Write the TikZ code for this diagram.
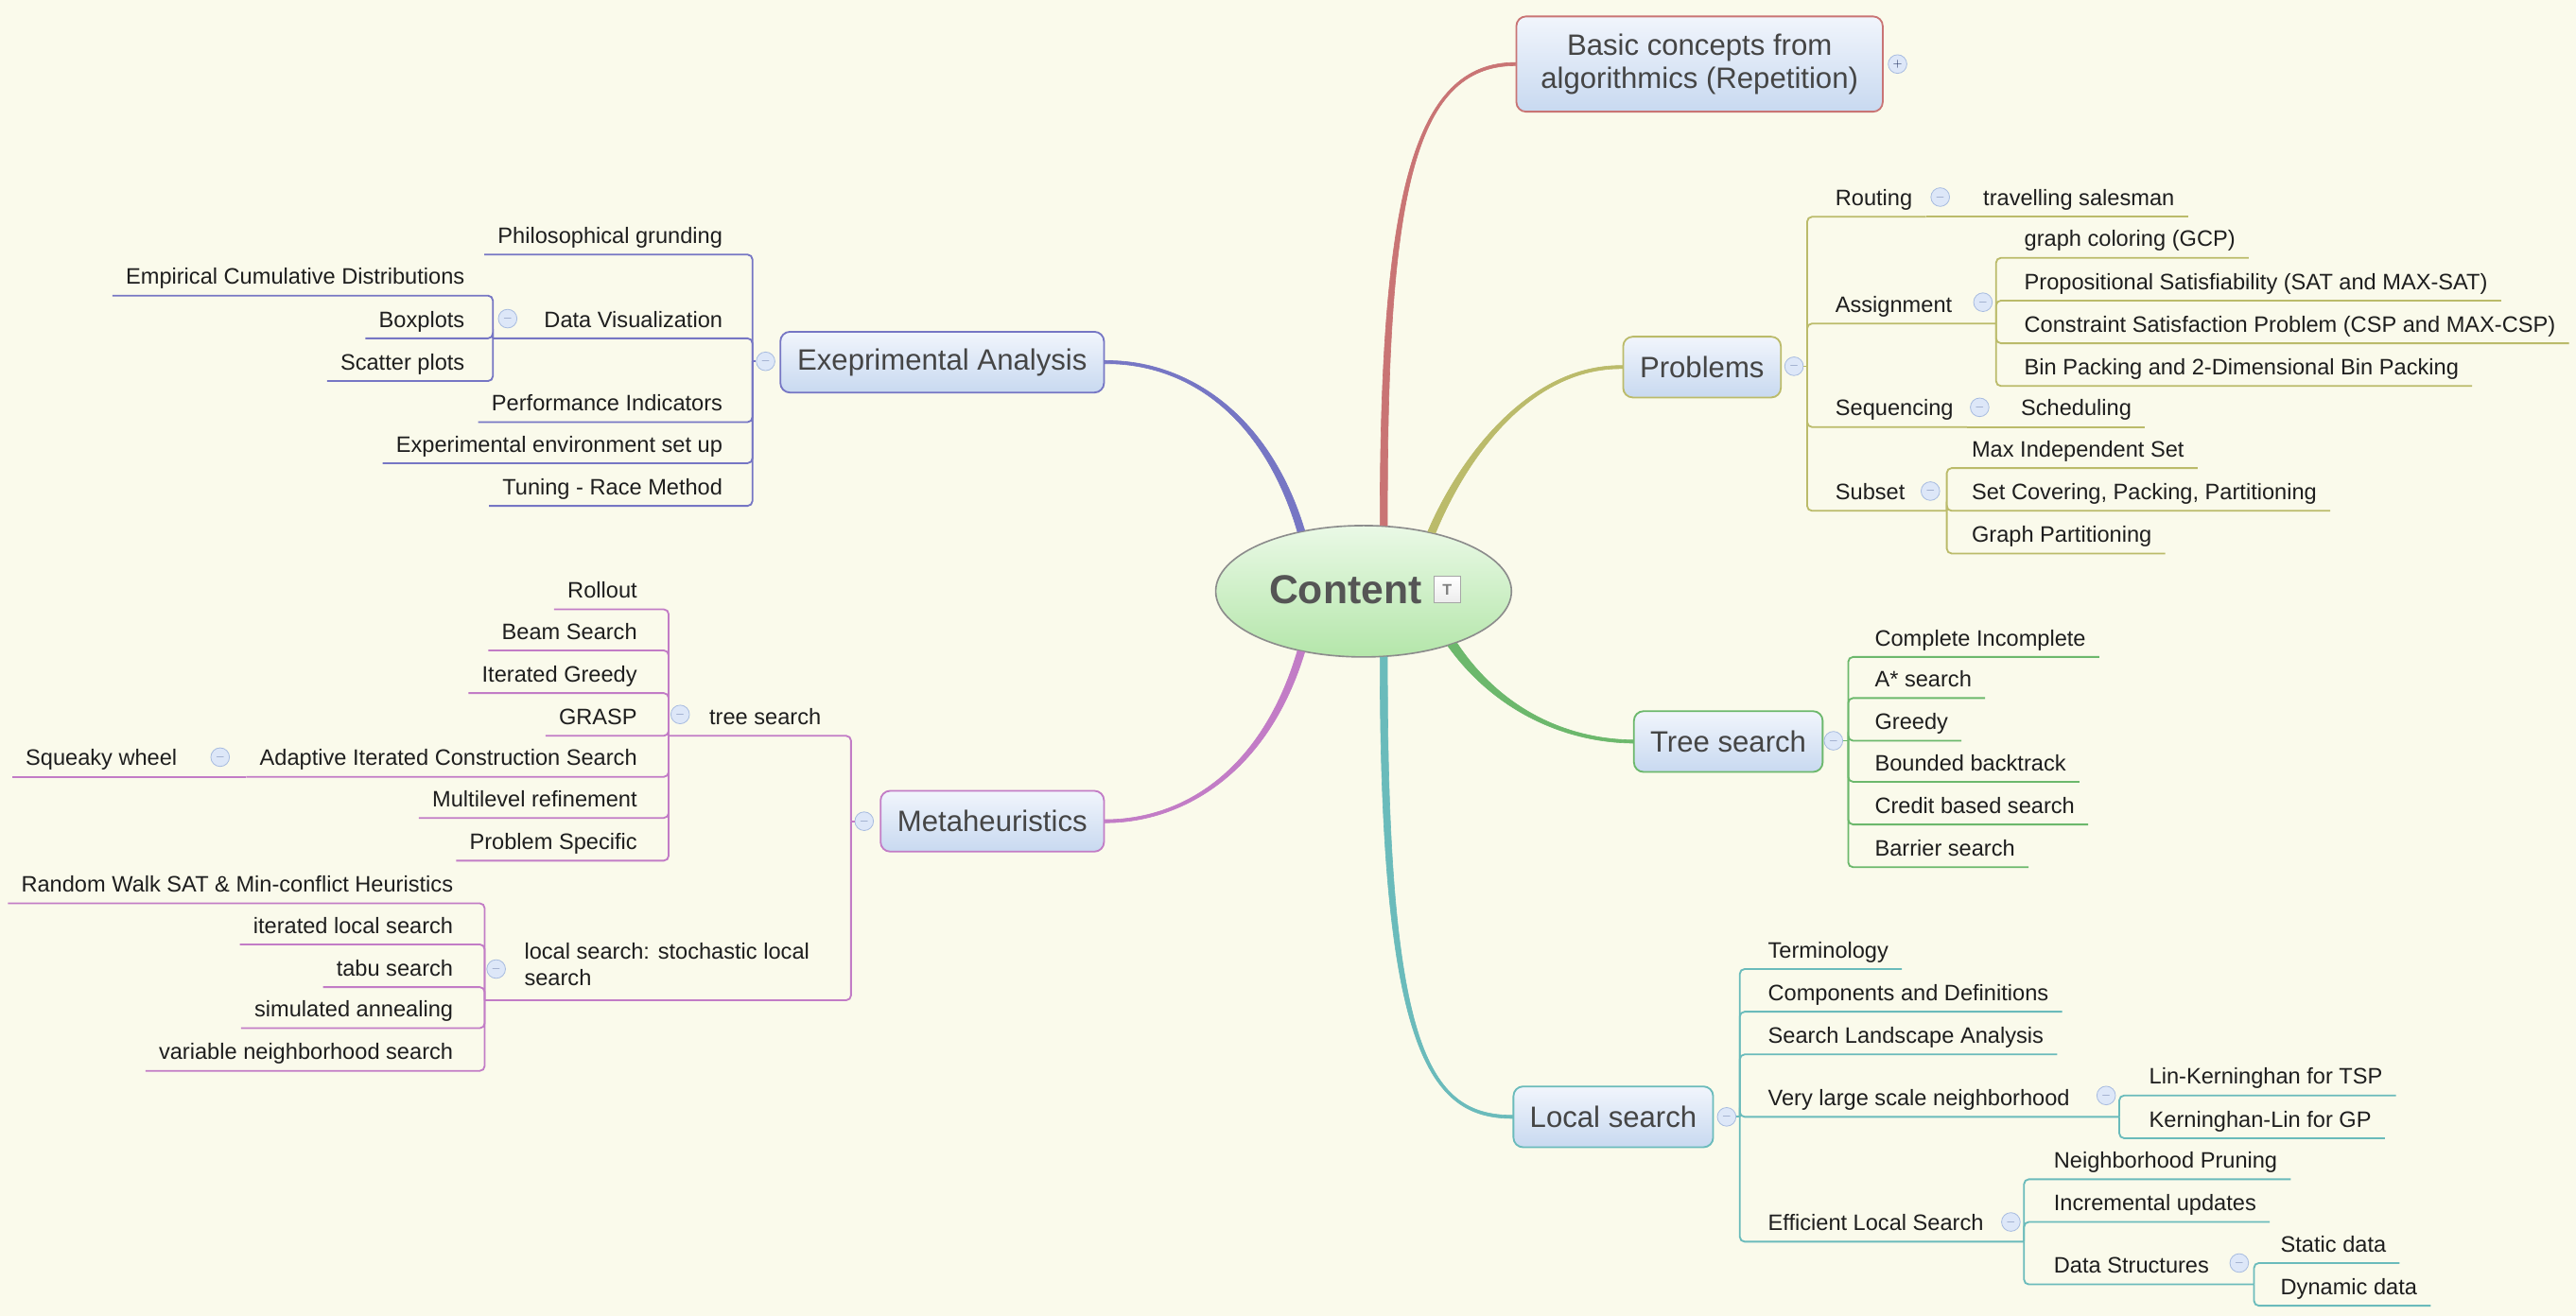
\documentclass[tikz,border=0pt]{standalone}
\usepackage{fontspec}
\setmainfont{Liberation Sans}
\usetikzlibrary{shapes.geometric,positioning}

\definecolor{paper}{HTML}{FAFAEB}
\definecolor{boxtop}{HTML}{F1F5FC}
\definecolor{boxbot}{HTML}{C8D9F0}
\definecolor{elltop}{HTML}{EAF9E6}
\definecolor{ellbot}{HTML}{B4E6AA}
\definecolor{ellrim}{HTML}{8C8C8C}
\definecolor{topicink}{HTML}{454545}
\definecolor{titleink}{HTML}{555555}
\definecolor{leafink}{HTML}{1E1E1E}
\definecolor{foldrim}{HTML}{A8BCE0}
\definecolor{foldfill}{HTML}{DDE7F8}
\definecolor{foldink}{HTML}{7A8CB4}
\definecolor{plusink}{HTML}{2A3A66}
\definecolor{basiccol}{HTML}{C97474}
\definecolor{probcol}{HTML}{BBBB6A}
\definecolor{treecol}{HTML}{6CB86C}
\definecolor{localcol}{HTML}{6ABBBB}
\definecolor{metacol}{HTML}{C27CC6}
\definecolor{expcol}{HTML}{7676C4}

\begin{document}
\begin{tikzpicture}[x=0.03cm,y=-0.03cm]
\tikzstyle{centre}=[ellipse, draw=ellrim, line width=0.8pt, top color=elltop, bottom color=ellbot, minimum width=5.4cm, minimum height=2.4cm]
\tikzstyle{title}=[font=\bfseries\fontsize{21}{24}\selectfont, text=titleink, inner sep=0pt]
\tikzstyle{note}=[rectangle, draw=gray!70, top color=white, bottom color=gray!15, minimum size=0.48cm, inner sep=0pt, font=\bfseries\footnotesize, text=gray]
\tikzstyle{topic}=[rectangle, rounded corners=5pt, line width=0.9pt, top color=boxtop, bottom color=boxbot, text=topicink, font=\fontsize{15.3}{17}\selectfont, inner xsep=8.5pt, minimum height=1.11cm]
\tikzstyle{leaf}=[inner xsep=6.8pt, inner ysep=3.4pt, text height=0.72em, text depth=0.22em, font=\fontsize{11.6}{13.6}\selectfont, text=leafink]
\tikzstyle{rleaf}=[leaf, anchor=south west]
\tikzstyle{lleaf}=[leaf, anchor=south east]
\tikzstyle{fold}=[circle, draw=foldrim, fill=foldfill, minimum size=0.34cm, inner sep=0pt, text=foldink, font=\tiny]
\tikzstyle{branch}=[line width=0.3pt]
\tikzstyle{link}=[line width=0.9pt]
\tikzstyle{bracket}=[link, rounded corners=2.5pt, to path={|- (\tikztotarget)}]
	\fill[paper, use as bounding box] (0,0) rectangle (1568,801);
	% centre
	\node[centre] (content) at (830,360) {};
	\node[title] (ctitle) at (819,359) {Content};
	\node[note, right=6pt of ctitle] (cnote) {T};
	% main topics
	\node[topic, draw=basiccol, align=center, minimum width=6.69cm, minimum height=1.74cm] (basic) at (1034.5,39) {Basic concepts from\\algorithmics (Repetition)};
	\node[topic, draw=probcol, minimum width=2.88cm] (problems) at (1036,223.5) {Problems};
	\node[topic, draw=treecol, minimum width=3.36cm] (treesearch) at (1052,451.5) {Tree search};
	\node[topic, draw=localcol, minimum width=3.6cm] (localsearch) at (982,680) {Local search};
	\node[topic, draw=metacol, minimum width=4.08cm] (metaheur) at (604,500) {Metaheuristics};
	\node[topic, draw=expcol, minimum width=5.91cm] (expanalysis) at (573.5,220.5) {Exeprimental Analysis};
	% tapered branches
	\filldraw[branch, basiccol] (content.70) .. controls (844,120) and (860,40) .. ([yshift=-0.8pt]basic.west)
		-- ([yshift=0.8pt]basic.west) .. controls (860,38) and (840,120) .. (content.76) -- cycle;
	\filldraw[branch, probcol] (content.39) .. controls (891.9,280.7) and (930,224) .. ([yshift=-0.8pt]problems.west)
		-- ([yshift=0.8pt]problems.west) .. controls (930,222) and (888.1,279.3) .. (content.43) -- cycle;
	\filldraw[branch, treecol] (content.-33) .. controls (908.3,431) and (950,452) .. ([yshift=-0.8pt]treesearch.west)
		-- ([yshift=0.8pt]treesearch.west) .. controls (950,450) and (911.7,429) .. (content.-29) -- cycle;
	\filldraw[branch, localcol] (content.-76) .. controls (840,640) and (870,681) .. ([yshift=-0.8pt]localsearch.west)
		-- ([yshift=0.8pt]localsearch.west) .. controls (870,679) and (844,640) .. (content.-70) -- cycle;
	\filldraw[branch, metacol] (content.-138) .. controls (768.1,469.5) and (720,499) .. ([yshift=0.8pt]metaheur.east)
		-- ([yshift=-0.8pt]metaheur.east) .. controls (720,501) and (771.9,470.5) .. (content.-134) -- cycle;
	\filldraw[branch, expcol] (content.134) .. controls (771.9,249.5) and (720,219) .. ([yshift=0.8pt]expanalysis.east)
		-- ([yshift=-0.8pt]expanalysis.east) .. controls (720,221) and (768.1,250.5) .. (content.138) -- cycle;
	\node[fold, text=plusink] (basicfold) at (1155,39) {$+$};

	% problems
	\node[fold] (probfold) at (1092,223) {$-$};
	\coordinate (pj) at (1100,223);
	\node[rleaf] (routing) at (1109,132) {Routing};
	\node[fold] (routingfold) at (1181,120) {$-$};
	\node[rleaf] (tsp) at (1199,132) {travelling salesman};
	\node[rleaf] (assign) at (1109,197) {Assignment};
	\node[fold] (assignfold) at (1207,184) {$-$};
	\coordinate (aj) at (1215,197);
	\node[rleaf] (gcp) at (1224,157) {graph coloring (GCP)};
	\node[rleaf] (sat) at (1224,183) {Propositional Satisfiability (SAT and MAX-SAT)};
	\node[rleaf] (csp) at (1224,209) {Constraint Satisfaction Problem (CSP and MAX-CSP)};
	\node[rleaf] (binpack) at (1224,235) {Bin Packing and 2-Dimensional Bin Packing};
	\node[rleaf] (seq) at (1109,260) {Sequencing};
	\node[fold] (seqfold) at (1205,248) {$-$};
	\node[rleaf] (sched) at (1222,260) {Scheduling};
	\node[rleaf] (subset) at (1109,311) {Subset};
	\node[fold] (subsetfold) at (1175,299) {$-$};
	\coordinate (sj) at (1185,311);
	\node[rleaf] (mis) at (1192,285) {Max Independent Set};
	\node[rleaf] (setcov) at (1192,311) {Set Covering, Packing, Partitioning};
	\node[rleaf] (gpart) at (1192,337) {Graph Partitioning};
	\begin{scope}[probcol]
	\path (probfold) edge [link] (pj);
	\path (pj) edge [bracket] (routing.south east);
	\path (routing.south east) edge [link] (tsp.south east);
	\path (pj) edge [bracket] (aj);
	\path (aj) edge [bracket] (gcp.south east);
	\path (aj) edge [bracket] (sat.south east);
	\path (aj) edge [bracket] (csp.south east);
	\path (aj) edge [bracket] (binpack.south east);
	\path (pj) edge [bracket] (seq.south east);
	\path (seq.south east) edge [link] (sched.south east);
	\path (pj) edge [bracket] (sj);
	\path (sj) edge [bracket] (mis.south east);
	\path (sj) edge [bracket] (setcov.south east);
	\path (sj) edge [bracket] (gpart.south east);
	\end{scope}

	% tree search
	\node[fold] (treefold) at (1116,451) {$-$};
	\coordinate (tj) at (1125,451);
	\node[rleaf] (complete) at (1133,400) {Complete Incomplete};
	\node[rleaf] (astar) at (1133,425) {A* search};
	\node[rleaf] (greedy) at (1133,451) {Greedy};
	\node[rleaf] (bounded) at (1133,476) {Bounded backtrack};
	\node[rleaf] (credit) at (1133,502) {Credit based search};
	\node[rleaf] (barrier) at (1133,528) {Barrier search};
	\begin{scope}[treecol]
	\path (treefold) edge [link] (tj);
	\path (tj) edge [bracket] (complete.south east);
	\path (tj) edge [bracket] (astar.south east);
	\path (tj) edge [bracket] (greedy.south east);
	\path (tj) edge [bracket] (bounded.south east);
	\path (tj) edge [bracket] (credit.south east);
	\path (tj) edge [bracket] (barrier.south east);
	\end{scope}

	% local search
	\node[fold] (localfold) at (1051,680) {$-$};
	\coordinate (lj) at (1059,680);
	\node[rleaf] (termin) at (1068,590) {Terminology};
	\node[rleaf] (compdef) at (1068,616) {Components and Definitions};
	\node[rleaf] (landscape) at (1068,642) {Search Landscape Analysis};
	\node[rleaf] (vlsn) at (1068,680) {Very large scale neighborhood};
	\node[fold] (vlsnfold) at (1282,667) {$-$};
	\coordinate (vj) at (1290,680);
	\node[rleaf] (lktsp) at (1300,667) {Lin-Kerninghan for TSP};
	\node[rleaf] (klgp) at (1300,693) {Kerninghan-Lin for GP};
	\node[rleaf] (efficient) at (1068,756) {Efficient Local Search};
	\node[fold] (efficientfold) at (1224,744) {$-$};
	\coordinate (ej) at (1232,756);
	\node[rleaf] (pruning) at (1242,718) {Neighborhood Pruning};
	\node[rleaf] (incr) at (1242,744) {Incremental updates};
	\node[rleaf] (datastruct) at (1242,782) {Data Structures};
	\node[fold] (datafold) at (1363,769) {$-$};
	\coordinate (dj) at (1372,782);
	\node[rleaf] (static) at (1380,769) {Static data};
	\node[rleaf] (dynamic) at (1380,795) {Dynamic data};
	\begin{scope}[localcol]
	\path (localfold) edge [link] (lj);
	\path (lj) edge [bracket] (termin.south east);
	\path (lj) edge [bracket] (compdef.south east);
	\path (lj) edge [bracket] (landscape.south east);
	\path (lj) edge [bracket] (vj);
	\path (vj) edge [bracket] (lktsp.south east);
	\path (vj) edge [bracket] (klgp.south east);
	\path (lj) edge [bracket] (ej);
	\path (ej) edge [bracket] (pruning.south east);
	\path (ej) edge [bracket] (incr.south east);
	\path (ej) edge [bracket] (dj);
	\path (dj) edge [bracket] (static.south east);
	\path (dj) edge [bracket] (dynamic.south east);
	\end{scope}

	% experimental analysis
	\node[fold] (expfold) at (466,220) {$-$};
	\coordinate (xj) at (458,220);
	\node[lleaf] (philo) at (448,155) {Philosophical grunding};
	\node[lleaf] (dataviz) at (448,206) {Data Visualization};
	\node[fold] (datavizfold) at (309,194) {$-$};
	\coordinate (dvj) at (300,206);
	\node[lleaf] (ecd) at (291,180) {Empirical Cumulative Distributions};
	\node[lleaf] (boxplots) at (291,206) {Boxplots};
	\node[lleaf] (scatter) at (291,232) {Scatter plots};
	\node[lleaf] (perf) at (448,257) {Performance Indicators};
	\node[lleaf] (envsetup) at (448,282) {Experimental environment set up};
	\node[lleaf] (tuning) at (448,308) {Tuning - Race Method};
	\begin{scope}[expcol]
	\path (expfold) edge [link] (xj);
	\path (xj) edge [bracket] (philo.south west);
	\path (xj) edge [bracket] (dvj);
	\path (dvj) edge [bracket] (ecd.south west);
	\path (dvj) edge [bracket] (boxplots.south west);
	\path (dvj) edge [bracket] (scatter.south west);
	\path (xj) edge [bracket] (perf.south west);
	\path (xj) edge [bracket] (envsetup.south west);
	\path (xj) edge [bracket] (tuning.south west);
	\end{scope}

	% metaheuristics
	\node[fold] (metafold) at (526,500) {$-$};
	\coordinate (mj) at (518,500);
	\node[lleaf] (treesearchm) at (508,448) {tree search};
	\node[fold] (treesearchfold) at (414,435) {$-$};
	\coordinate (tsj) at (407,448);
	\node[lleaf] (rollout) at (396,371) {Rollout};
	\node[lleaf] (beam) at (396,396) {Beam Search};
	\node[lleaf] (itgreedy) at (396,422) {Iterated Greedy};
	\node[lleaf] (grasp) at (396,448) {GRASP};
	\node[lleaf] (aics) at (396,473) {Adaptive Iterated Construction Search};
	\node[fold] (aicsfold) at (134,461) {$-$};
	\node[lleaf] (squeaky) at (116,473) {Squeaky wheel};
	\node[lleaf] (multilevel) at (396,498) {Multilevel refinement};
	\node[lleaf] (probspec) at (396,524) {Problem Specific};
	\node[leaf, anchor=south west, align=left, text height={}, text depth={}] (sls) at (311,609) {local search: stochastic local\\search\strut};
	\node[fold] (slsfold) at (302,590) {$-$};
	\coordinate (slsj) at (295,609);
	\node[lleaf] (rwsat) at (284,550) {Random Walk SAT \& Min-conflict Heuristics};
	\node[lleaf] (ils) at (284,575) {iterated local search};
	\node[lleaf] (tabu) at (284,601) {tabu search};
	\node[lleaf] (simann) at (284,626) {simulated annealing};
	\node[lleaf] (vns) at (284,652) {variable neighborhood search};
	\begin{scope}[metacol]
	\path (metafold) edge [link] (mj);
	\path (mj) edge [bracket] (tsj);
	\path (tsj) edge [bracket] (rollout.south west);
	\path (tsj) edge [bracket] (beam.south west);
	\path (tsj) edge [bracket] (itgreedy.south west);
	\path (tsj) edge [bracket] (grasp.south west);
	\path (tsj) edge [bracket] (aics.south west);
	\path (aics.south west) edge [link] (squeaky.south west);
	\path (tsj) edge [bracket] (multilevel.south west);
	\path (tsj) edge [bracket] (probspec.south west);
	\path (mj) edge [bracket] (slsj);
	\path (slsj) edge [bracket] (rwsat.south west);
	\path (slsj) edge [bracket] (ils.south west);
	\path (slsj) edge [bracket] (tabu.south west);
	\path (slsj) edge [bracket] (simann.south west);
	\path (slsj) edge [bracket] (vns.south west);
	\end{scope}
\end{tikzpicture}
\end{document}
